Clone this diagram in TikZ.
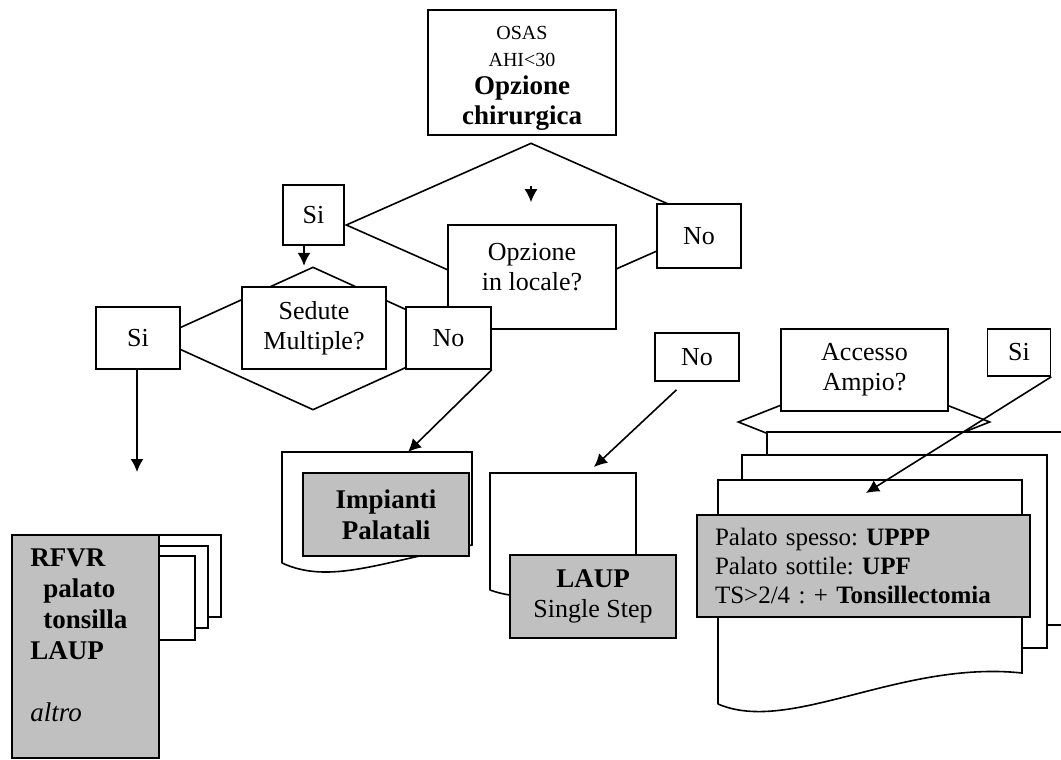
\documentclass[tikz,border=0pt]{standalone}
\usepackage{fontspec}
\setmainfont{Liberation Serif}
\usepackage{tikz}
\usetikzlibrary{arrows.meta}
\usetikzlibrary{shapes.geometric}
\usetikzlibrary{positioning}
\frenchspacing
\definecolor{boxgray}{RGB}{192,192,192}
\tikzset{scelta/.style={rectangle,draw=black,fill=white,line width=0.8pt,align=center,inner sep=0pt,font=\fontsize{13}{15}\selectfont}}
\tikzset{esito/.style={scelta,fill=boxgray}}
\tikzset{
rombo/.style={diamond,draw=black,line width=0.8pt,inner sep=0pt},
foglio/.style={draw=black,fill=white,line width=0.8pt},
freccia/.style={-{Latex[length=6.5pt,width=6.5pt]},line width=0.8pt}
}

\begin{document}
\begin{tikzpicture}[x=0.5pt,y=-0.5pt]
\useasboundingbox (0,0) rectangle (1061,760);

% first choice
\node[rombo,minimum width=185pt,minimum height=82pt] (d1) at (531,225) {};
\node[scelta,minimum width=94pt,minimum height=62.5pt] (osas) at (522,72.5)
  {\fontsize{10}{12}\selectfont\rule{0pt}{12pt}OSAS\\[-1.5pt] \fontsize{10}{12}\selectfont AHI<30\\[-1pt]
   \fontsize{13.5}{16}\selectfont\bfseries Opzione\\ \fontsize{13.5}{16}\selectfont\bfseries chirurgica};
\node[scelta,minimum width=84pt,minimum height=52pt] (locale) at (532,277) {Opzione\\in locale?\\[-5pt]};
\node[scelta,minimum width=30.5pt,minimum height=30pt] (siA) at (313.5,215) {Si};
\node[scelta,minimum width=42pt,minimum height=32pt] (noA) at (699,236) {No};
\draw[freccia] ([yshift=-22pt]d1.north) -- ([yshift=-30pt]d1.north);

% sedute multiple
\node[rombo,minimum width=157pt,minimum height=71.5pt] (d2) at (313,338.5) {};
\node[scelta,minimum width=72pt,minimum height=41pt] (sedute) at (314,328) {Sedute\\Multiple?};
\node[scelta,minimum width=42pt,minimum height=31pt] (siB) at (138,338) {Si};
\node[scelta,minimum width=42.5pt,minimum height=31pt] (noB) at (448.5,338) {No};
\draw[freccia] ([xshift=-4.75pt]siA.south) -- ([xshift=-4.75pt,yshift=-10pt]siA.south);

% RFVR stack
\foreach \t/\r/\b in {535/221/617, 546/208/628, 556/195/640}
  \draw[foglio] (60,\t) rectangle (\r,\b);
\node[esito,minimum width=73.5pt,minimum height=111.5pt] (rfvr) at (85.5,646.5) {};
\node[anchor=north west,inner sep=0pt,align=left,font=\fontsize{13.5}{15.5}\selectfont] (rfvrtxt) at (30,548)
  {\bfseries RFVR\\ \hspace*{6.5pt}\bfseries palato\\ \hspace*{6.5pt}\bfseries tonsilla\\ \bfseries LAUP\\[15.5pt] \itshape altro};
\coordinate (rfvrIn) at (137,472);
\draw[freccia] ([xshift=-0.5pt]siB.south) -- (rfvrIn);

% impianti palatali
\draw[foglio] (282,563) -- (282,452) -- (472,452) -- (472,545)
  .. controls (380,562) and (330,585) .. (282,563);
\node[esito,minimum width=83pt,minimum height=41.5pt,font=\fontsize{13.5}{15.5}\selectfont\bfseries] (impianti) at (386,514.5) {Impianti\\Palatali};
\coordinate (impTop) at (408,452);
\draw[freccia] (noB.south east) -- (impTop);

% LAUP single step
\node[scelta,minimum width=41.75pt,minimum height=24pt] (noC) at (697,357) {No};
\draw[foglio] (490,590) -- (490,473) -- (636,473) -- (636,570)
  .. controls (580,590) and (530,605) .. (490,590);
\node[esito,minimum width=83.25pt,minimum height=41.5pt] (laup) at (593,596.5) {\fontsize{13.5}{15.5}\selectfont\bfseries LAUP\\Single Step};
\coordinate (laupTop) at (594,467);
\draw[freccia] ([xshift=-10.25pt,yshift=-4pt]noC.south) -- (laupTop);

% accesso ampio
\node[rombo,minimum width=126pt,minimum height=50pt] (d3) at (864,422) {};
\node[scelta,minimum width=83.5pt,minimum height=41pt] (accesso) at (864.5,370) {Accesso\\Ampio?};
\node[scelta,minimum width=31.5pt,minimum height=23.5pt] (siC) at (1019,352.5) {Si};
\draw[foglio] (767,432) rectangle (1090,625);
\draw[foglio] (742,455) rectangle (1047,648);
\draw[foglio] (718,704) -- (718,480) -- (1022,480) -- (1022,673)
  .. controls (900,660) and (790,735) .. (718,704);
\node[esito,minimum height=51pt,text width=148.5pt,inner xsep=9pt,align=left,font=\fontsize{12.5}{14.5}\selectfont] (uppp) at (863.5,566)
  {Palato spesso: \textbf{UPPP}\\ Palato sottile: \textbf{UPF}\\ TS>2/4 : + \textbf{Tonsillectomia}};
\coordinate (upppIn) at (866,493);
\draw[freccia] (siC.south east) -- (upppIn);

\end{tikzpicture}
\end{document}
